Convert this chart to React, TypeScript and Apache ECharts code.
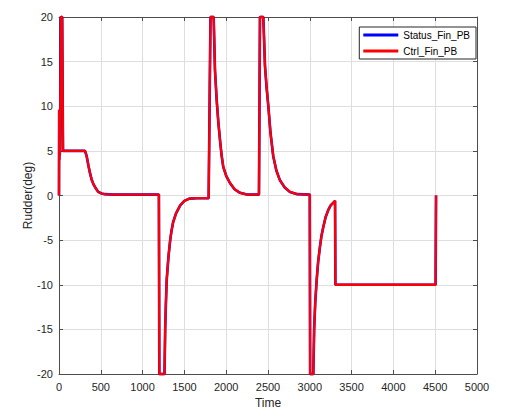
import React, { useEffect, useRef } from "react";
import * as echarts from "echarts";

const timePoints = [
  0, 2, 4, 6, 8, 12, 24, 38, 48, 311, 331, 351, 371, 390, 410, 440, 470, 510, 550, 650,
  1195, 1200, 1262, 1270, 1279, 1288, 1300, 1310, 1330, 1345, 1365, 1400, 1450, 1500,
  1560, 1650, 1790, 1812, 1850, 1866, 1886, 1906, 1926, 1945, 1965, 2000, 2045, 2100,
  2165, 2250, 2392, 2404, 2444, 2464, 2484, 2504, 2530, 2563, 2600, 2643, 2700, 2763,
  2850, 3000, 3004, 3042, 3052, 3065, 3082, 3100, 3122, 3140, 3162, 3190, 3222, 3250,
  3282, 3302, 3306, 4505, 4510,
];

const ctrlValues = [
  0, 9.6, 4, 9, 4.5, 5, 20, 20, 5, 5, 4.4, 3.4, 2.5, 1.8, 1.3, 0.8, 0.4, 0.22, 0.15, 0.1,
  0.1, -20, -20, -15, -12, -9.5, -8, -6.8, -5, -4, -3, -2, -1.1, -0.6,
  -0.35, -0.3, -0.3, 20, 20, 14, 10.7, 8.2, 6.2, 4.5, 3.2, 2.2, 1.4, 0.7,
  0.3, 0.1, 0.1, 20, 20, 14.5, 12, 10, 7, 4.4, 2.8, 1.7, 0.9, 0.4,
  0.15, 0.1, -20, -20, -15, -12, -9.5, -7.4, -5.7, -4.5, -3.5, -2.4, -1.6, -1.1,
  -0.8, -0.6, -10, -10, 0,
];

const statusValues = ctrlValues.slice();

const xTicks = { min: 0, max: 5000, interval: 500 };
const yTicks = { min: -20, max: 20, interval: 5 };

const seriesNames = ["Status_Fin_PB", "Ctrl_Fin_PB"];

export default function App() {
  const ref = useRef<HTMLDivElement>(null);
  useEffect(() => {
    if (!ref.current) return;
    const chart = echarts.init(ref.current, null, { renderer: "svg" });
    const font = "'Liberation Sans', Arial, Helvetica, sans-serif";
    const axisColor = "#4d4d4d";
    const gridColor = "#dedede";
    const toPairs = (vals: number[]) => timePoints.map((t, i) => [t, vals[i]]);
    chart.setOption({
      animation: false,
      backgroundColor: "#ffffff",
      textStyle: { fontFamily: font },
      grid: { left: 59, right: 28, top: 17, bottom: 43, containLabel: false },
      legend: {
        orient: "vertical",
        right: 29,
        top: 27,
        padding: [2, 6, 2, 4],
        itemGap: 4,
        itemWidth: 35,
        itemHeight: 3,
        itemTextGap: 3,
        icon: "rect",
        backgroundColor: "#ffffff",
        borderColor: "#262626",
        borderWidth: 1,
        borderRadius: 0,
        textStyle: { fontFamily: font, fontSize: 10, color: "#000", lineHeight: 12 },
        data: seriesNames,
      },
      xAxis: [
        {
          type: "value",
          min: xTicks.min,
          max: xTicks.max,
          interval: xTicks.interval,
          name: "Time",
          nameLocation: "middle",
          nameGap: 23,
          nameMoveOverlap: false,
          nameTextStyle: { fontFamily: font, fontSize: 12, color: "#262626" },
          axisLine: { show: true, onZero: false, lineStyle: { color: axisColor, width: 1 } },
          axisTick: { show: true, inside: true, length: 4, lineStyle: { color: axisColor } },
          axisLabel: {
            fontFamily: font,
            fontSize: 11,
            color: "#262626",
            margin: 7,
            formatter: (v: number) => String(v),
          },
          splitLine: { show: true, lineStyle: { color: gridColor, width: 1 } },
        },
        {
          type: "value",
          position: "top",
          min: xTicks.min,
          max: xTicks.max,
          interval: xTicks.interval,
          axisLine: { show: true, onZero: false, lineStyle: { color: axisColor, width: 1 } },
          axisTick: { show: true, inside: true, length: 4, lineStyle: { color: axisColor } },
          axisLabel: { show: false },
          splitLine: { show: false },
        },
      ],
      yAxis: [
        {
          type: "value",
          min: yTicks.min,
          max: yTicks.max,
          interval: yTicks.interval,
          name: "Rudder(deg)",
          nameLocation: "middle",
          nameGap: 25,
          nameMoveOverlap: false,
          nameRotate: 90,
          nameTextStyle: { fontFamily: font, fontSize: 12, color: "#262626" },
          axisLine: { show: true, onZero: false, lineStyle: { color: axisColor, width: 1 } },
          axisTick: { show: true, inside: true, length: 4, lineStyle: { color: axisColor } },
          axisLabel: { fontFamily: font, fontSize: 11, color: "#262626", margin: 6 },
          splitLine: { show: true, lineStyle: { color: gridColor, width: 1 } },
        },
        {
          type: "value",
          position: "right",
          min: yTicks.min,
          max: yTicks.max,
          interval: yTicks.interval,
          axisLine: { show: true, onZero: false, lineStyle: { color: axisColor, width: 1 } },
          axisTick: { show: true, inside: true, length: 4, lineStyle: { color: axisColor } },
          axisLabel: { show: false },
          splitLine: { show: false },
        },
      ],
      series: [
        {
          name: seriesNames[0],
          type: "line",
          data: toPairs(statusValues),
          showSymbol: false,
          clip: false,
          color: "#0000ff",
          lineStyle: { color: "#0000ff", width: 2.6 },
        },
        {
          name: seriesNames[1],
          type: "line",
          data: toPairs(ctrlValues),
          showSymbol: false,
          clip: false,
          color: "#ff0000",
          lineStyle: { color: "#ff0000", width: 2.3 },
        },
      ],
    });
    return () => chart.dispose();
  }, []);
  return (
    <div
      ref={ref}
      style={{ position: "fixed", left: 0, top: 0, width: 505, height: 417, background: "#fff" }}
    />
  );
}
